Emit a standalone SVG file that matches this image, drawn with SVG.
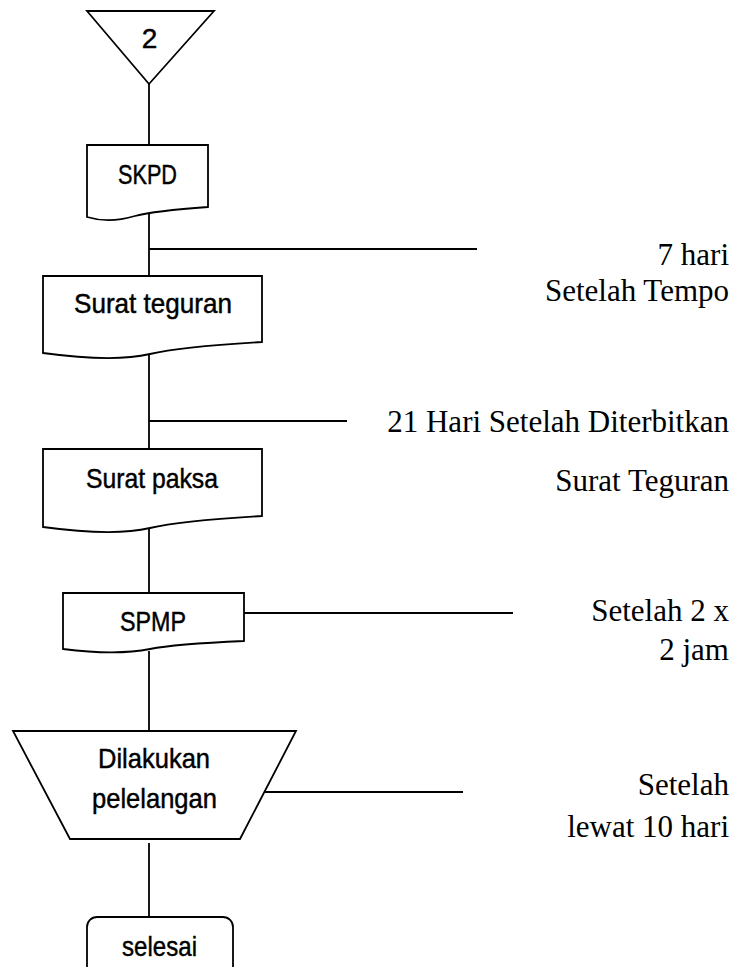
<svg xmlns="http://www.w3.org/2000/svg" width="740" height="967" viewBox="0 0 740 967">
  <style>
    .shape { fill: #ffffff; stroke: #000000; stroke-width: 1.8; stroke-linejoin: miter; }
    .wire { fill: none; stroke: #000000; stroke-width: 1.8; }
    .lbl { font-family: "Liberation Sans", Arial, sans-serif; font-size: 28px; fill: #000000; stroke: #000000; stroke-width: 0.45; }
    .note { font-family: "Liberation Serif", "Times New Roman", serif; font-size: 31px; fill: #000000; text-anchor: end; }
  </style>
  <rect width="740" height="967" fill="#ffffff"/>

  <!-- vertical flow line and side timing ticks -->
  <g id="connectors">
    <line class="wire" x1="149" y1="84" x2="149" y2="145"/>
    <line class="wire" x1="149" y1="213" x2="149" y2="276"/>
    <line class="wire" x1="149" y1="355" x2="149" y2="449"/>
    <line class="wire" x1="149" y1="529" x2="149" y2="593"/>
    <line class="wire" x1="149" y1="651" x2="149" y2="731"/>
    <line class="wire" x1="149" y1="843" x2="149" y2="917"/>
    <line class="wire" x1="149" y1="249" x2="477" y2="249"/>
    <line class="wire" x1="149" y1="421" x2="347" y2="421"/>
    <line class="wire" x1="244" y1="613" x2="513" y2="613"/>
    <line class="wire" x1="264" y1="792" x2="463" y2="792"/>
  </g>

  <!-- off-page connector -->
  <g id="node-2">
    <polygon class="shape" points="87,11 214,11 149,84"/>
    <text class="lbl" x="149.5" y="48" text-anchor="middle">2</text>
  </g>

  <!-- documents -->
  <g id="node-skpd">
    <path class="shape" d="M87,145 H208 V207 C180,209 150,212 135,216 C115,222 100,221 87,217 Z"/>
    <text class="lbl" x="118" y="184" textLength="59" lengthAdjust="spacingAndGlyphs">SKPD</text>
  </g>

  <g id="node-surat-teguran">
    <path class="shape" d="M43,276 H262 V342 C210,345 175,348 150,354 C120,361 80,358 43,353 Z"/>
    <text class="lbl" x="74" y="313" textLength="158" lengthAdjust="spacingAndGlyphs">Surat teguran</text>
  </g>

  <g id="node-surat-paksa">
    <path class="shape" d="M43,449 H262 V516 C210,519 175,522 150,528 C120,535 80,532 43,527 Z"/>
    <text class="lbl" x="86" y="488" textLength="132" lengthAdjust="spacingAndGlyphs">Surat paksa</text>
  </g>

  <g id="node-spmp">
    <path class="shape" d="M63,593 H244 V641 C200,643 170,645 150,649 C125,654 95,653 63,649 Z"/>
    <text class="lbl" x="120" y="631" textLength="66" lengthAdjust="spacingAndGlyphs">SPMP</text>
  </g>

  <!-- manual operation -->
  <g id="node-pelelangan">
    <polygon class="shape" points="13,731 296,731 240,839 70,839"/>
    <text class="lbl" x="98" y="768" textLength="112" lengthAdjust="spacingAndGlyphs">Dilakukan</text>
    <text class="lbl" x="92" y="808" textLength="125" lengthAdjust="spacingAndGlyphs">pelelangan</text>
  </g>

  <!-- terminator -->
  <g id="node-selesai">
    <rect class="shape" x="87" y="917" width="146" height="70" rx="10" ry="10"/>
    <text class="lbl" x="122" y="956" textLength="75" lengthAdjust="spacingAndGlyphs">selesai</text>
  </g>

  <!-- timing notes -->
  <g id="notes">
    <text class="note" x="729" y="265">7 hari</text>
    <text class="note" x="729" y="301">Setelah Tempo</text>
    <text class="note" x="729" y="432">21 Hari Setelah Diterbitkan</text>
    <text class="note" x="729" y="491">Surat Teguran</text>
    <text class="note" x="729" y="621">Setelah 2 x</text>
    <text class="note" x="729" y="660">2 jam</text>
    <text class="note" x="729" y="795">Setelah</text>
    <text class="note" x="729" y="837">lewat 10 hari</text>
  </g>
</svg>
